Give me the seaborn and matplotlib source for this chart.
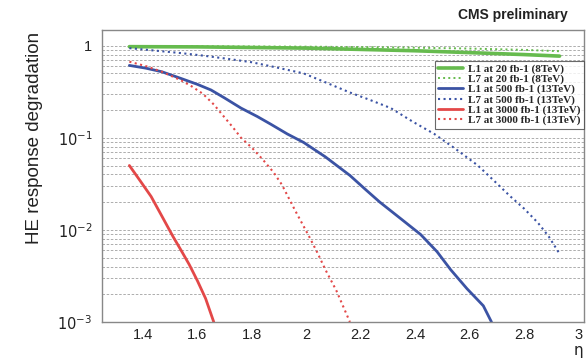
import math
import matplotlib
matplotlib.use("Agg")
import matplotlib.pyplot as plt
import matplotlib.ticker as mticker
import seaborn as sns

# ── Data ──────────────────────────────────────────────────────────────────────
eta_l1_8tev = [1.35, 1.6, 1.8, 2.0, 2.2, 2.4, 2.6, 2.8, 2.93]
deg_l1_8tev = [0.975, 0.97, 0.955, 0.94, 0.91, 0.88, 0.84, 0.80, 0.77]

eta_l7_8tev = [1.35, 1.6, 1.8, 2.0, 2.2, 2.4, 2.6, 2.8, 2.93]
deg_l7_8tev = [0.99, 0.985, 0.98, 0.975, 0.965, 0.95, 0.93, 0.90, 0.87]

eta_l1_500 = [1.35, 1.41, 1.47, 1.54, 1.60, 1.65, 1.70, 1.76, 1.82, 1.87, 1.93, 1.99,
              2.07, 2.16, 2.22, 2.27, 2.35, 2.42, 2.48, 2.53, 2.59, 2.65, 2.68]
deg_l1_500 = [0.61, 0.57, 0.52, 0.44, 0.38, 0.33, 0.27, 0.21, 0.17, 0.14, 0.11, 0.089,
              0.062, 0.039, 0.027, 0.020, 0.013, 0.0089, 0.0058, 0.0037, 0.0023, 0.0015, 0.001]

eta_l7_500 = [1.35, 1.45, 1.54, 1.62, 1.71, 1.80, 1.89, 1.99, 2.07, 2.16, 2.23, 2.31,
              2.39, 2.47, 2.55, 2.63, 2.69, 2.75, 2.80, 2.85, 2.89, 2.93]
deg_l7_500 = [0.94, 0.88, 0.83, 0.78, 0.72, 0.66, 0.58, 0.50, 0.40, 0.31, 0.26, 0.21,
              0.15, 0.11, 0.075, 0.05, 0.034, 0.023, 0.017, 0.012, 0.0085, 0.0055]

eta_l1_3000 = [1.35, 1.39, 1.43, 1.47, 1.51, 1.54, 1.57, 1.60, 1.63, 1.66]
deg_l1_3000 = [0.05, 0.034, 0.023, 0.014, 0.0085, 0.006, 0.0042, 0.0028, 0.0018, 0.001]

eta_l7_3000 = [1.35, 1.41, 1.47, 1.54, 1.58, 1.62, 1.66, 1.69, 1.73, 1.76, 1.80, 1.84,
               1.88, 1.91, 1.96, 2.01, 2.04, 2.07, 2.11, 2.16]
deg_l7_3000 = [0.67, 0.60, 0.52, 0.42, 0.36, 0.30, 0.23, 0.18, 0.13, 0.10, 0.078, 0.058,
               0.042, 0.031, 0.016, 0.0085, 0.0057, 0.0037, 0.0022, 0.001]

X_TICKS = [1.4, 1.6, 1.8, 2.0, 2.2, 2.4, 2.6, 2.8, 3.0]
X_TICK_LABELS = ["1.4", "1.6", "1.8", "2", "2.2", "2.4", "2.6", "2.8", "3"]

# ── Style ─────────────────────────────────────────────────────────────────────
GREEN = "#66bb4e"
BLUE = "#3b53a4"
RED = "#e34848"

sns.set_style("white")
plt.rcParams["font.family"] = ["Liberation Sans", "DejaVu Sans"]

fig = plt.figure(figsize=(5.87, 3.61), dpi=100)
ax = fig.add_axes([0.174, 0.108, 0.821, 0.809])

series = [
    (eta_l1_8tev, deg_l1_8tev, GREEN, "-", 2.6, "L1 at 20 fb-1 (8TeV)"),
    (eta_l7_8tev, deg_l7_8tev, GREEN, ":", 1.4, "L7 at 20 fb-1 (8TeV)"),
    (eta_l1_500, deg_l1_500, BLUE, "-", 2.0, "L1 at 500 fb-1 (13TeV)"),
    (eta_l7_500, deg_l7_500, BLUE, ":", 1.5, "L7 at 500 fb-1 (13TeV)"),
    (eta_l1_3000, deg_l1_3000, RED, "-", 2.0, "L1 at 3000 fb-1 (13TeV)"),
    (eta_l7_3000, deg_l7_3000, RED, ":", 1.5, "L7 at 3000 fb-1 (13TeV)"),
]
for xs, ys, col, ls, lw, lab in series:
    sns.lineplot(x=xs, y=ys, ax=ax, color=col, linestyle=ls, linewidth=lw,
                 label=lab, sort=False)

ax.set_yscale("log")
ax.set_xlim(1.25, 3.02)
ax.set_ylim(1e-3, 1.48)

ax.set_xticks(X_TICKS)
ax.set_xticklabels(X_TICK_LABELS)


def _ytick(v, _):
    if abs(v - 1) < 1e-9:
        return "1"
    return f"$10^{{{int(round(math.log10(v)))}}}$"


ax.yaxis.set_major_locator(mticker.LogLocator(base=10, numticks=10))
ax.yaxis.set_major_formatter(mticker.FuncFormatter(_ytick))
ax.yaxis.set_minor_locator(mticker.LogLocator(base=10, subs=range(2, 10), numticks=10))
ax.yaxis.set_minor_formatter(mticker.NullFormatter())
ax.tick_params(axis="both", which="both", length=0, labelsize=10.5, colors="#222222")
ax.tick_params(axis="x", pad=4)
ax.tick_params(axis="y", pad=7)

ax.grid(True, axis="y", which="both", color="#a0a0a0", linestyle=(0, (3, 2)), linewidth=0.6)
ax.grid(False, axis="x")
for sp in ax.spines.values():
    sp.set_color("#888888")
    sp.set_linewidth(1.0)

leg = ax.legend(loc="upper right", bbox_to_anchor=(1.0, 0.895), borderaxespad=0,
                frameon=True, fancybox=False, handlelength=2.2, handletextpad=0.5,
                labelspacing=0.02, borderpad=0.3,
                prop={"family": "Liberation Serif", "weight": "bold", "size": 8})
leg.get_frame().set_edgecolor("#444444")
leg.get_frame().set_linewidth(0.8)

ax.set_xlabel("")
ax.set_ylabel("")
fig.text(35 / 587, 1 - 138 / 361, "HE response degradation", rotation=90,
         ha="center", va="center", fontsize=13.5, color="#222222")
fig.text(578 / 587, 1 - 350 / 361, "η", ha="center", va="center",
         fontsize=11, color="#222222", family="DejaVu Sans")
fig.text(568 / 587, 1 - 15 / 361, "CMS preliminary", ha="right", va="center",
         fontsize=10, fontweight="bold", color="#222222")

fig.savefig("out.png", dpi=100)
